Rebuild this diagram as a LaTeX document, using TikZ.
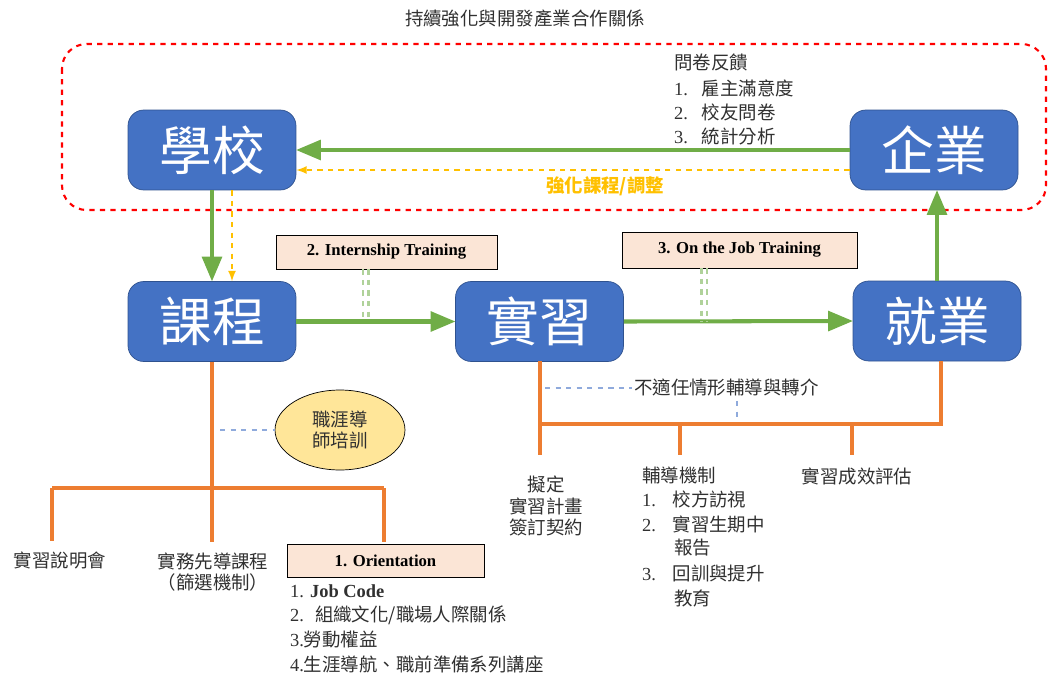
\documentclass[tikz,border=0pt]{standalone}
\usepackage{fontspec}
\setmainfont{Noto Sans CJK TC}
\newfontfamily\tnr{Liberation Serif}
\usetikzlibrary{arrows,shapes.geometric}
\definecolor{boxblue}{HTML}{4472C4}
\definecolor{boxline}{HTML}{2F528F}
\definecolor{grn}{HTML}{70AD47}
\definecolor{org}{HTML}{ED7D31}
\definecolor{gold}{HTML}{FFC000}
\definecolor{peach}{HTML}{FBE5D6}
\definecolor{pale}{HTML}{FFE699}
\definecolor{dashblue}{HTML}{8FAADC}
\definecolor{txt}{HTML}{303030}
\tikzstyle{garr}=[->,>=triangle 45,line width=2.3pt,draw=grn,color=grn]

\begin{document}
\begin{tikzpicture}[x=0.02cm,y=-0.02cm]
  \useasboundingbox (0,0) rectangle (1050,673);
  \tikzstyle unit=[rounded corners=9pt,fill=boxblue,draw=boxline,text=white,
    minimum width=3.36cm,minimum height=1.6cm,inner sep=0pt,
    font=\fontsize{30}{30}\selectfont];
  \tikzstyle lbl=[text=txt,inner sep=1pt,font=\fontsize{10.5}{12}\selectfont];
  \tikzstyle tag=[draw=black,fill=peach,minimum height=0.68cm,
    font=\tnr\bfseries\fontsize{9.5}{11}\selectfont];
  \tikzstyle branch=[line width=2.3pt,draw=org];

  % outer frame
  \node[lbl] (title) at (525,18) {持續強化與開發產業合作關係};
  \draw[red,dashed,line width=1.2pt,rounded corners=14pt] (62,44) rectangle (1046,210);

  % main units
  \node[unit] (school) at (212,150) {學校};
  \node[unit] (firm) at (934,150) {企業};
  \node[unit] (course) at (212,321.5) {課程};
  \node[unit] (intern) at (539.5,321.5) {實習};
  \node[unit] (job) at (937,321) {就業};

  % feedback loop
  \draw[garr] (firm.west) -- (school.east);
  \draw[->,>=latex,gold,dashed,line width=1pt] ([yshift=-0.4cm]firm.west) -- ([yshift=-0.4cm]school.east);
  \node[text=gold,font=\bfseries\fontsize{10.5}{12}\selectfont] (adjust) at (605,186) {強化課程/調整};
  \node[lbl,anchor=west] (fbhead) at (672,62) {問卷反饋};
  \foreach \fy/\fn/\ftext in {88/1./雇主滿意度, 112/2./校友問卷, 136/3./統計分析}
  {
    \node[lbl,anchor=west] (fb\fy) at (672,\fy) {{\tnr\fn}\hspace{0.75em}\ftext};
  }

  % main flow
  \draw[garr] (school.south) -- (course.north);
  \draw[->,>=latex,gold,dashed,line width=1pt] ([xshift=0.4cm]school.south) -- ([xshift=0.4cm]course.north);
  \draw[garr] (course.east) -- (intern.west);
  \draw[garr] (intern.east) -- (job.west);
  \draw[garr] (job.north) -- (job.north |- firm.south);

  % training stages
  \node[tag,minimum width=4.42cm] (stageA) at (386.5,252) {2. Internship Training};
  \node[tag,minimum width=4.7cm,minimum height=0.72cm] (stageB) at (739.5,250) {3. On the Job Training};
  \foreach \dx in {-0.47,-0.36}
    \draw[grn!55,dashed,line width=1.2pt] ([xshift=\dx cm]stageA.south) -- ([xshift=\dx cm]stageA.south |- course.east);
  \foreach \dx in {-0.76,-0.65}
    \draw[grn!55,dashed,line width=1.2pt] ([xshift=\dx cm]stageB.south) -- ([xshift=\dx cm]stageB.south |- intern.east);

  % course branches
  \coordinate (cfork) at (212,488);
  \coordinate (cleft) at (52,488);
  \coordinate (cright) at (384,488);
  \draw[branch] (course.south) -- (cfork);
  \draw[branch] (cleft) -- (cright);
  \draw[branch] (cleft) -- +(0,53);
  \draw[branch] (cfork) -- +(0,54);
  \draw[branch] (cright) -- +(0,54);
  \node[ellipse,draw=black,fill=pale,minimum width=2.6cm,minimum height=1.6cm,inner sep=0pt,
    lbl,align=center] (mentor) at (340,430) {職涯導\\師培訓};
  \draw[dashblue,dashed,line width=1.2pt] (220,430) -- (mentor.west);
  \node[lbl] (info) at (60,560) {實習說明會};
  \node[lbl,align=center] (precourse) at (213,572) {實務先導課程\\（篩選機制）};
  \node[tag,minimum width=3.94cm,minimum height=0.66cm] (orient) at (385.5,560.5) {1. Orientation};
  \node[lbl,anchor=west] (or1) at (288,591) {{\tnr 1. \textbf{Job Code}}};
  \node[lbl,anchor=west] (or2) at (288,615) {{\tnr 2.}\hspace{0.6em}組織文化/職場人際關係};
  \node[lbl,anchor=west] (or3) at (288,640) {{\tnr 3.}勞動權益};
  \node[lbl,anchor=west] (or4) at (288,664) {{\tnr 4.}生涯導航、職前準備系列講座};

  % internship branches
  \coordinate (ifork) at (540,424);
  \coordinate (jfork) at (941,424);
  \draw[branch] (540,361) -- (540,455);
  \draw[branch] (ifork) -- (jfork) -- (941,361);
  \draw[branch] (680,424) -- (680,455);
  \draw[branch] (852,424) -- (852,455);
  \node[lbl,anchor=west] (misfit) at (632,388) {不適任情形輔導與轉介};
  \draw[dashblue,dashed,line width=1.2pt] (545,388) -- (misfit.west);
  \draw[dashblue,dashed,line width=1.2pt] (737,401) -- (737,420);
  \node[lbl,align=center] (plan) at (546,506) {擬定\\實習計畫\\簽訂契約};
  \foreach \ty/\tx/\ttext in {
    475/640/輔導機制,
    499/640/{{\tnr 1.}\hspace{0.9em}校方訪視},
    524/640/{{\tnr 2.}\hspace{0.9em}實習生期中},
    548/672/報告,
    573/640/{{\tnr 3.}\hspace{0.9em}回訓與提升},
    598/672/教育}
  {
    \node[lbl,anchor=west] (gd\ty) at (\tx,\ty) {\ttext};
  }
  \node[lbl] (assess) at (857,476) {實習成效評估};
\end{tikzpicture}
\end{document}
